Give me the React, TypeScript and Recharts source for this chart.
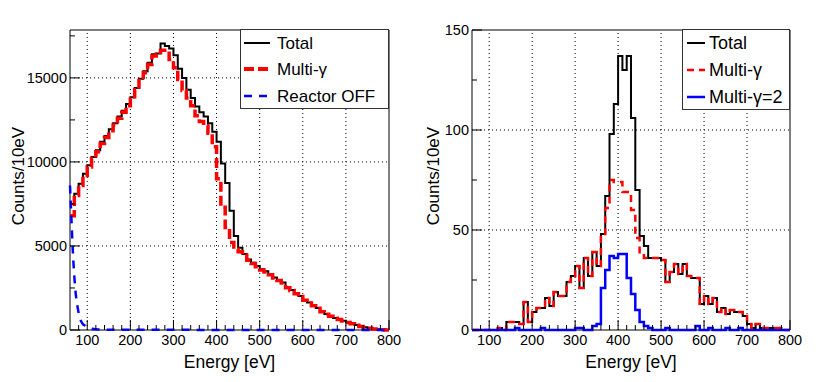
import React from 'react'
import {
  LineChart,
  Line,
  XAxis,
  YAxis,
  ReferenceLine,
  ReferenceArea,
  Legend,
} from 'recharts'

const FONT = '"Liberation Sans", Arial, Helvetica, sans-serif'

// low edges of the 10 eV bins (last bin is 790-800)
const binEdges = [
  60, 70, 80, 90, 100, 110, 120, 130, 140, 150,
  160, 170, 180, 190, 200, 210, 220, 230, 240, 250,
  260, 270, 280, 290, 300, 310, 320, 330, 340, 350,
  360, 370, 380, 390, 400, 410, 420, 430, 440, 450,
  460, 470, 480, 490, 500, 510, 520, 530, 540, 550,
  560, 570, 580, 590, 600, 610, 620, 630, 640, 650,
  660, 670, 680, 690, 700, 710, 720, 730, 740, 750,
  760, 770, 780, 790,
]

// left pad
const leftTotal = [
  7500, 8100, 8700, 9300, 9800, 10300, 10700, 11200, 11550, 11950,
  12300, 12700, 13050, 13450, 13850, 14400, 14950, 15400, 15900, 16400,
  16450, 17050, 16900, 16750, 16350, 15550, 15000, 14300, 13800, 13300,
  12950, 12700, 12300, 11800, 11200, 9900, 8750, 7100, 5600, 4900,
  4520, 4200, 4000, 3810, 3610, 3490, 3330, 3130, 2970, 2820,
  2540, 2380, 2180, 2020, 1790, 1630, 1470, 1310, 1090, 950,
  830, 710, 630, 550, 460, 380, 300, 220, 160, 100,
  60, 40, 20, 5,
]
const leftMulti = [
  6800, 8000, 8600, 9200, 9700, 10200, 10600, 11100, 11450, 11850,
  12200, 12600, 12950, 13350, 13750, 14300, 14850, 15300, 15800, 16300,
  16400, 16650, 16650, 16100, 15600, 14900, 14250, 13800, 13350, 12750,
  12400, 12150, 11700, 10900, 9000, 7300, 6100, 5200, 4800, 4650,
  4450, 4150, 3950, 3760, 3570, 3450, 3290, 3100, 2940, 2790,
  2510, 2350, 2150, 1990, 1770, 1610, 1450, 1290, 1080, 940,
  820, 700, 620, 540, 450, 370, 290, 215, 155, 100,
  60, 40, 20, 5,
]
const reactorEnergy = [60, 62, 64, 66, 68, 70, 72, 75, 78, 82, 86, 90, 95, 100, 110, 120, 140, 800]
const reactorOff = [8600, 7400, 6200, 5000, 4000, 3200, 2500, 1800, 1300, 800, 500, 350, 250, 150, 80, 40, 15, 0]

// right pad
const rightTotal = [
  0, 0, 0, 0, 0, 0, 1, 0, 4, 4,
  4, 3, 14, 4, 9, 11, 11, 16, 12, 19,
  17, 17, 24, 27, 32, 21, 36, 27, 39, 32,
  48, 67, 98, 113, 137, 130, 137, 106, 70, 47,
  42, 36, 36, 36, 35, 24, 29, 33, 28, 33,
  27, 26, 26, 13, 17, 13, 16, 9, 11, 8,
  10, 9, 9, 7, 3, 1, 3, 1, 1, 1,
  1, 1, 0, 0,
]
const rightMulti = [
  0, 0, 0, 0, 0, 0, 1, 0, 4, 4,
  4, 3, 14, 4, 9, 11, 11, 16, 12, 19,
  17, 17, 24, 27, 32, 21, 36, 27, 39, 32,
  48, 61, 75, 74, 74, 69, 69, 60, 46, 38,
  36, 36, 36, 36, 35, 24, 29, 33, 28, 33,
  27, 26, 26, 13, 17, 13, 16, 9, 11, 8,
  10, 9, 9, 7, 3, 1, 3, 1, 1, 1,
  1, 1, 0, 0,
]
const rightMulti2 = [
  0, 0, 0, 0, 0, 0, 0, 0, 0, 0,
  1, 0, 0, 0, 0, 0, 1, 0, 0, 0,
  0, 0, 0, 0, 1, 1, 0, 0, 2, 3,
  21, 30, 37, 36, 38, 38, 26, 18, 10, 4,
  2, 1, 0, 0, 0, 1, 0, 0, 0, 0,
  0, 0, 2, 0, 0, 1, 0, 0, 0, 1,
  0, 0, 1, 0, 0, 0, 0, 0, 0, 0,
  0, 0, 0, 0,
]

const xTicks = [
  80, 100, 120, 140, 160, 180, 200, 220, 240, 260, 280, 300, 320, 340, 360, 380, 400,
  420, 440, 460, 480, 500, 520, 540, 560, 580, 600, 620, 640, 660, 680, 700, 720, 740,
  760, 780, 800,
]
const xGrid = [100, 200, 300, 400, 500, 600, 700]
const leftYTicks = [0, 2500, 5000, 7500, 10000, 12500, 15000, 17500]
const leftYGrid = [5000, 10000, 15000]
const rightYTicks = [0, 25, 50, 75, 100, 125, 150]
const rightYGrid = [50, 100]

const leftLegend = [
  { label: 'Total', color: '#000000', width: 2, dash: undefined },
  { label: 'Multi-γ', color: '#ff0000', width: 4, dash: '10 4' },
  { label: 'Reactor OFF', color: '#0000ff', width: 2.5, dash: '8 7' },
]
const rightLegend = [
  { label: 'Total', color: '#000000', width: 2, dash: undefined },
  { label: 'Multi-γ', color: '#ff0000', width: 2.5, dash: '7 5' },
  { label: 'Multi-γ=2', color: '#0000ff', width: 2.5, dash: undefined },
]

function histRows(series: Record<string, number[]>) {
  const rows = binEdges.map((e, i) => {
    const r: any = { e }
    for (const k in series) r[k] = series[k][i]
    return r
  })
  const end: any = { e: 800 }
  for (const k in series) end[k] = series[k][series[k].length - 1]
  return [...rows, end]
}

const leftRows = histRows({ total: leftTotal, multi: leftMulti })
const reactorRows = reactorEnergy.map((e, i) => ({ e, off: reactorOff[i] }))
const rightRows = histRows({ total: rightTotal, multi: rightMulti, multi2: rightMulti2 })

const XTick = (props: any) => {
  const { x, y, payload } = props
  const major = payload.value % 100 === 0
  return (
    <g>
      <line x1={x} x2={x} y1={y} y2={y - (major ? 10 : 5)} stroke="#000" />
      {major && (
        <text x={x} y={y + 15} textAnchor="middle" fontSize={14.5} fontFamily={FONT} fill="#000">
          {payload.value}
        </text>
      )}
    </g>
  )
}

const makeYTick = (majorStep: number) => (props: any) => {
  const { x, y, payload } = props
  const major = payload.value % majorStep === 0
  return (
    <g>
      <line x1={x} x2={x + (major ? 10 : 5)} y1={y} y2={y} stroke="#000" />
      {major && (
        <text x={x - 3} y={y} dy="0.36em" textAnchor="end" fontSize={14.5} fontFamily={FONT} fill="#000">
          {payload.value}
        </text>
      )}
    </g>
  )
}

const XTitle = (props: any) => {
  const { x, y, width } = props.viewBox
  return (
    <text x={x + width / 2} y={y + 38} textAnchor="middle" fontSize={17.5} fontFamily={FONT} fill="#000">
      Energy [eV]
    </text>
  )
}

const YTitle = (props: any) => {
  const { x, y, height } = props.viewBox
  const cx = x + 8
  const cy = y + height / 2 - 4
  return (
    <text
      x={cx}
      y={cy}
      transform={`rotate(-90, ${cx}, ${cy})`}
      textAnchor="middle"
      dominantBaseline="central"
      fontSize={17}
      fontFamily={FONT}
      fill="#000"
    >
      Counts/10eV
    </text>
  )
}

function LegendBox({ items, w, h, rows, x0, x1, tx, fontSize }: any) {
  return (
    <svg width={w} height={h} style={{ display: 'block' }}>
      <rect x={0.5} y={0.5} width={w - 1} height={h - 1} fill="#fff" stroke="#333" />
      {items.map((it: any, i: number) => (
        <g key={it.label}>
          <line
            x1={x0}
            x2={x1}
            y1={rows[i]}
            y2={rows[i]}
            stroke={it.color}
            strokeWidth={it.width}
            strokeDasharray={it.dash}
          />
          <text x={tx} y={rows[i]} dy="0.36em" fontSize={fontSize} fontFamily={FONT} fill="#000">
            {it.label}
          </text>
        </g>
      ))}
    </svg>
  )
}

export default function App() {
  return (
    <div style={{ position: 'absolute', left: 0, top: 0, width: 830, height: 382, background: '#fff' }}>
      <div style={{ position: 'absolute', left: 0, top: 0 }}>
        <LineChart width={415} height={382} data={leftRows} margin={{ top: 30, right: 26, bottom: 0, left: 10 }}>
          <XAxis
            type="number"
            dataKey="e"
            domain={[60, 800]}
            ticks={xTicks}
            interval={0}
            height={52}
            tickSize={0}
            tickMargin={0}
            axisLine={false}
            tickLine={false}
            tick={XTick}
            label={<XTitle />}
          />
          <YAxis
            type="number"
            domain={[0, 17850]}
            ticks={leftYTicks}
            interval={0}
            width={60}
            tickSize={0}
            tickMargin={0}
            axisLine={false}
            tickLine={false}
            tick={makeYTick(5000)}
            label={<YTitle />}
          />
          {xGrid.map((v) => (
            <ReferenceLine key={'x' + v} x={v} stroke="#000" strokeDasharray="1 3" />
          ))}
          {leftYGrid.map((v) => (
            <ReferenceLine key={'y' + v} y={v} stroke="#000" strokeDasharray="1 3" />
          ))}
          <Line dataKey="total" type="stepAfter" stroke="#000" strokeWidth={2} dot={false} activeDot={false} isAnimationActive={false} />
          <Line dataKey="multi" type="stepAfter" stroke="#ff0000" strokeWidth={3.5} strokeDasharray="10 4" dot={false} activeDot={false} isAnimationActive={false} />
          <Line data={reactorRows} dataKey="off" type="monotone" stroke="#0000ff" strokeWidth={2.5} strokeDasharray="8 7" dot={false} activeDot={false} isAnimationActive={false} />
          <ReferenceArea x1={60} x2={800} y1={0} y2={17850} fill="none" stroke="#000" strokeWidth={1} />
          <Legend
            layout="vertical"
            align="center"
            verticalAlign="middle"
            wrapperStyle={{ left: 240, top: 29, width: 149, height: 80 }}
            content={() => (
              <LegendBox items={leftLegend} w={149} h={80} rows={[14, 40, 67]} x0={4} x1={30} tx={37} fontSize={17} />
            )}
          />
        </LineChart>
      </div>
      <div style={{ position: 'absolute', left: 415, top: 0 }}>
        <LineChart width={415} height={382} data={rightRows} margin={{ top: 30, right: 40, bottom: 0, left: 10 }}>
          <XAxis
            type="number"
            dataKey="e"
            domain={[60, 800]}
            ticks={xTicks}
            interval={0}
            height={52}
            tickSize={0}
            tickMargin={0}
            axisLine={false}
            tickLine={false}
            tick={XTick}
            label={<XTitle />}
          />
          <YAxis
            type="number"
            domain={[0, 150]}
            ticks={rightYTicks}
            interval={0}
            width={47}
            tickSize={0}
            tickMargin={0}
            axisLine={false}
            tickLine={false}
            tick={makeYTick(50)}
            label={<YTitle />}
          />
          {xGrid.map((v) => (
            <ReferenceLine key={'x' + v} x={v} stroke="#000" strokeDasharray="1 3" />
          ))}
          {rightYGrid.map((v) => (
            <ReferenceLine key={'y' + v} y={v} stroke="#000" strokeDasharray="1 3" />
          ))}
          <Line dataKey="total" type="stepAfter" stroke="#000" strokeWidth={2} dot={false} activeDot={false} isAnimationActive={false} />
          <Line dataKey="multi" type="stepAfter" stroke="#ff0000" strokeWidth={2.5} strokeDasharray="7 5" dot={false} activeDot={false} isAnimationActive={false} />
          <Line dataKey="multi2" type="stepAfter" stroke="#0000ff" strokeWidth={2.5} dot={false} activeDot={false} isAnimationActive={false} />
          <ReferenceArea x1={60} x2={800} y1={0} y2={150} fill="none" stroke="#000" strokeWidth={1} />
          <Legend
            layout="vertical"
            align="center"
            verticalAlign="middle"
            wrapperStyle={{ left: 267, top: 29, width: 108, height: 81 }}
            content={() => (
              <LegendBox items={rightLegend} w={108} h={81} rows={[14, 41, 68]} x0={5} x1={23} tx={27} fontSize={18} />
            )}
          />
        </LineChart>
      </div>
    </div>
  )
}
